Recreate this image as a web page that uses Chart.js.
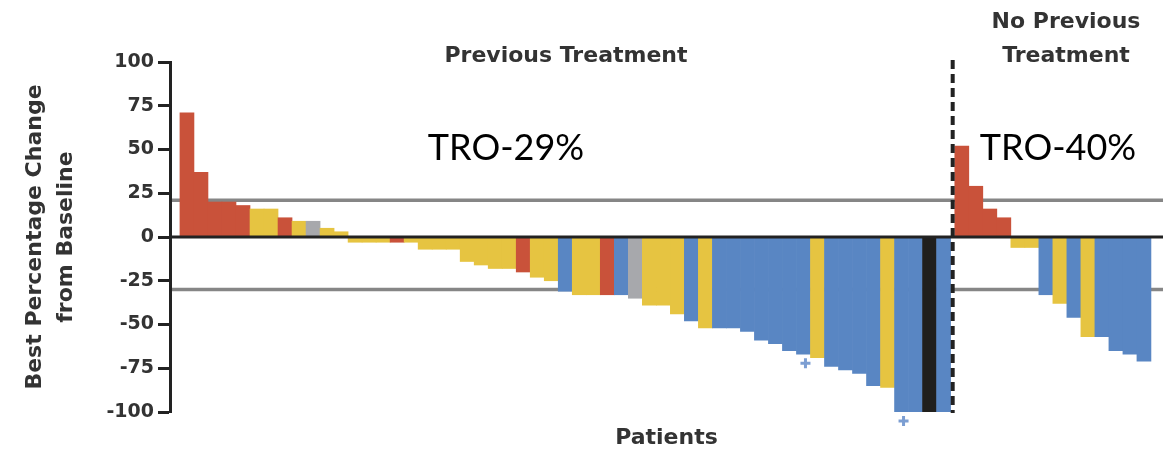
<!DOCTYPE html>
<html>
<head>
<meta charset="utf-8">
<script src="https://cdn.jsdelivr.net/npm/chart.js@4/dist/chart.umd.min.js"></script>
<style>
  html, body { margin: 0; padding: 0; background: #fff; }
  #wrap { width: 1163px; height: 451px; }
</style>
</head>
<body>
<div id="wrap"><canvas id="myChart"></canvas></div>
<script>
// best % change from baseline, one bar per patient
const prevValues = [71, 37, 20, 20, 18, 16, 16, 11, 9, 9, 5, 3,
  -3, -3, -3, -3, -3, -7, -7, -7, -14, -16, -18, -18, -20, -23, -25,
  -31, -33, -33, -33, -33, -35, -39, -39, -44, -48, -52, -52, -52,
  -54, -59, -61, -65, -67, -69, -74, -76, -78, -85, -86, -100, -100, -100, -100];
const prevGroups = 'RRRRRYYRYGYYYYYRYYYYYYYYRYYBYYRBGYYYBYBBBBBBBYBBBBYBBKB'.split('');

const noPrevValues = [52, 29, 16, 11, -6, -6, -33, -38, -46, -57, -57, -65, -67, -71];
const noPrevGroups = 'RRRRYYBYBYBBBB'.split('');

// bars marked with an asterisk (index within previous-treatment group)
const prevFlagged = [44, 51];

const refLines = [21, -30];
const yTicks = [-100, -75, -50, -25, 0, 25, 50, 75, 100];

const groupColors = { R: '#C9523A', Y: '#E6C441', B: '#5986C3', G: '#A7A8AC', K: '#201F1D' };

// small gap between the two groups, the dashed divider sits in it
const gap = 0.3;
const points = [];
const colors = [];
prevValues.forEach((v, i) => { points.push({ x: i + 1, y: v }); colors.push(groupColors[prevGroups[i]]); });
noPrevValues.forEach((v, j) => { points.push({ x: prevValues.length + 1 + gap + j, y: v }); colors.push(groupColors[noPrevGroups[j]]); });
const dividerX = prevValues.length + 0.5 + gap / 2;

const boldFont = { family: '"DejaVu Sans", sans-serif', size: 22, weight: 'bold' };

const extras = {
  id: 'extras',
  beforeDatasetsDraw(chart) {
    const { ctx, chartArea, scales: { y } } = chart;
    ctx.save();
    ctx.strokeStyle = '#868686';
    ctx.lineWidth = 3.5;
    refLines.forEach(v => {
      const py = y.getPixelForValue(v);
      ctx.beginPath();
      ctx.moveTo(chartArea.left + 2, py);
      ctx.lineTo(chartArea.right, py);
      ctx.stroke();
    });
    ctx.restore();
  },
  afterDatasetsDraw(chart) {
    const { ctx, chartArea, scales: { x, y } } = chart;
    const meta = chart.getDatasetMeta(0);
    ctx.save();

    // zero line
    ctx.strokeStyle = '#222';
    ctx.lineWidth = 3;
    const y0 = y.getPixelForValue(0);
    ctx.beginPath();
    ctx.moveTo(chartArea.left, y0);
    ctx.lineTo(chartArea.right, y0);
    ctx.stroke();

    // dashed divider between groups
    const dx = x.getPixelForValue(dividerX);
    ctx.setLineDash([9, 5]);
    ctx.lineWidth = 4;
    ctx.beginPath();
    ctx.moveTo(dx, chartArea.top - 2);
    ctx.lineTo(dx, chartArea.bottom + 1);
    ctx.stroke();
    ctx.setLineDash([]);

    // asterisks under flagged bars
    ctx.strokeStyle = '#7C9ED2';
    ctx.lineWidth = 3;
    prevFlagged.forEach(i => {
      const bar = meta.data[i];
      const cx = bar.x + 2;
      const cy = Math.min(bar.y, chartArea.bottom) + 9;
      ctx.beginPath();
      ctx.moveTo(cx - 5, cy); ctx.lineTo(cx + 5, cy);
      ctx.moveTo(cx, cy - 5); ctx.lineTo(cx, cy + 5);
      ctx.stroke();
    });

    // group headers
    ctx.fillStyle = '#333';
    ctx.font = 'bold 22px "DejaVu Sans", sans-serif';
    ctx.textAlign = 'center';
    ctx.textBaseline = 'middle';
    ctx.fillText('Previous Treatment', 566, 56);
    ctx.fillText('No Previous', 1066, 22);
    ctx.fillText('Treatment', 1066, 56);

    // response rates
    ctx.fillStyle = '#000';
    ctx.font = '36px Lato, sans-serif';
    ctx.textBaseline = 'alphabetic';
    ctx.fillText('TRO-29%', 506, 160);
    ctx.fillText('TRO-40%', 1058, 160);
    ctx.restore();
  }
};

const config = {
  type: 'bar',
  data: {
    datasets: [{
      data: points,
      backgroundColor: colors,
      borderWidth: 0,
      barPercentage: 1,
      categoryPercentage: 1
    }]
  },
  options: {
    responsive: true,
    maintainAspectRatio: false,
    animation: false,
    layout: { padding: { top: 62, right: 0, bottom: 0, left: 0 } },
    plugins: {
      legend: { display: false },
      tooltip: { enabled: false }
    },
    scales: {
      x: {
        type: 'linear',
        offset: false,
        min: -0.21,
        max: 70.66,
        ticks: { display: false },
        grid: { display: false, offset: false },
        border: { display: false },
        title: { display: true, text: 'Patients', color: '#333', font: boldFont, padding: 0 },
        afterFit: s => { s.height = 39; }
      },
      y: {
        min: -100,
        max: 100,
        afterBuildTicks: s => { s.ticks = yTicks.map(v => ({ value: v })); },
        ticks: { color: '#333', padding: 4, font: { family: '"DejaVu Sans", sans-serif', size: 19, weight: 'bold' } },
        grid: { drawOnChartArea: false, drawTicks: true, tickLength: 12, tickWidth: 3, tickColor: '#222' },
        border: { display: true, color: '#222', width: 3 },
        title: {
          display: true,
          text: ['Best Percentage Change', 'from Baseline'],
          color: '#333',
          font: { family: '"DejaVu Sans", sans-serif', size: 22, weight: 'bold', lineHeight: 1.4 },
          padding: { top: 20, bottom: 0 }
        },
        afterFit: s => { s.width = 170; }
      }
    }
  },
  plugins: [extras]
};

const myChart = new Chart(document.getElementById('myChart').getContext('2d'), config);
</script>
</body>
</html>
